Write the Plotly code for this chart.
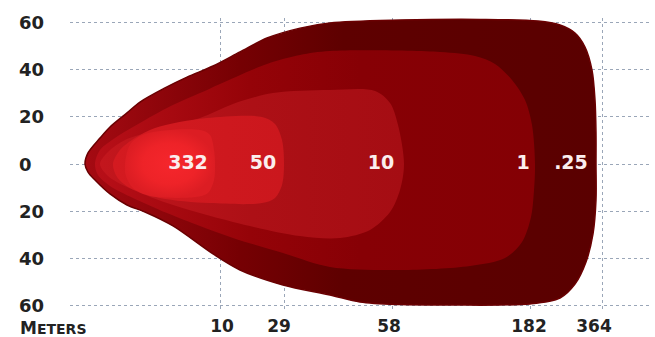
import plotly.graph_objects as go

# ---------------- data ----------------
# horizontal display position of the distance grid lines, tick labels (meters)
dist_grid_pos = [220, 284, 392, 530, 602]
dist_label_pos = [222, 279, 389, 529, 594]
dist_tick_labels = ["10", "29", "58", "182", "364"]

# lateral spread (meters) tick values and labels
lat_tick_vals = [60, 40, 20, 0, -20, -40, -60]
lat_tick_labels = ["60", "40", "20", "0", "20", "40", "60"]

# iso-lux contours: display position (x) and lateral meters (y)
c025_x = [85, 88, 100, 110, 127, 140, 165, 187, 213, 240, 267, 300, 330, 400, 480, 538, 560, 575, 585, 592, 595, 596, 596,
          596, 593, 586, 575, 560, 530, 450, 400, 360, 330, 283, 240, 213, 173, 145, 127, 110, 95, 88]
c025_y = [0, 4.7, 11.0, 15.7, 21.7, 26.3, 32.3, 36.9, 41.6, 47.6, 53.5, 57.7, 59.9, 61.1, 61.4, 60.7, 59.0, 55.6, 49.7, 39.9, 27.2, 13.2, 0,
          -15.3, -29.7, -41.6, -51.0, -56.9, -59.4, -59.9, -59.7, -58.6, -55.6, -51.4, -45.0, -38.2, -26.3, -20.4, -17.4, -12.7, -6.8, -3.4]

c1_x = [95, 100, 115, 133, 167, 200, 220, 267, 300, 330, 440, 475, 495, 512, 525, 532, 535,
        534, 531, 522, 505, 470, 400, 330, 283, 233, 200, 167, 133, 110, 98]
c1_y = [0, 5.9, 11.0, 15.7, 23.8, 30.1, 34.0, 42.5, 46.3, 48.0, 47.6, 45.9, 42.5, 35.7, 27.2, 16.6, 0,
        -11.0, -22.5, -33.1, -39.9, -43.3, -45.0, -43.7, -37.8, -31.4, -26.3, -20.8, -14.4, -9.3, -4.7]

c10_x = [100, 108, 125, 150, 200, 233, 273, 330, 375, 390, 398, 404,
         400, 390, 370, 340, 300, 233, 167, 127, 108]
c10_y = [0, 5.1, 10.2, 13.6, 19.5, 25.5, 30.1, 31.4, 31.0, 25.9, 16.6, 0,
         -11.0, -20.4, -28.0, -31.4, -30.6, -24.6, -16.6, -9.8, -5.1]

c50_x = [113, 120, 135, 155, 207, 262, 275, 282, 284, 282, 275, 262, 210, 160, 130, 117]
c50_y = [0, 5.9, 11.0, 15.3, 19.5, 20.0, 17.0, 10.2, 0, -8.9, -14.4, -16.6, -16.6, -14.4, -10.2, -5.5]

c332_x = [125, 130, 145, 200, 210, 214, 215, 214, 208, 195, 150, 133, 126]
c332_y = [0, 8.1, 12.7, 14.4, 12.3, 5.9, 0, -6.8, -12.3, -14.0, -13.6, -10.2, -5.1]

# lux value labels
lux_labels = ["332", "50", "10", "1", ".25"]
lux_label_x = [188, 263, 381, 523, 571]
lux_label_y = [0, 0, 0, 0, 0]

# ---------------- figure ----------------
BOLD = dict(family="DejaVu Sans", weight=700)

fig = go.Figure()

def contour(xs, ys, grad, gtype="horizontal", start=None, stop=None, line_col=None, lw=0):
    t = go.Scatter(
        x=xs + [xs[0]], y=ys + [ys[0]], mode="lines", fill="toself",
        line=dict(shape="spline", smoothing=0.9, width=lw, color=line_col or "rgba(0,0,0,0)"),
        fillgradient=dict(type=gtype, colorscale=grad, **({} if start is None else dict(start=start, stop=stop))),
        hoverinfo="skip", showlegend=False,
    )
    fig.add_trace(t)

contour(c025_x, c025_y,
        [[0, "#a50a12"], [0.3, "#760003"], [0.5, "#5e0000"], [1, "#5a0000"]],
        start=85, stop=600, line_col="#6a0002", lw=1.5)
contour(c1_x, c1_y,
        [[0, "#b80f18"], [0.35, "#950308"], [0.6, "#870005"], [1, "#840004"]],
        start=95, stop=537)
contour(c10_x, c10_y,
        [[0, "#c3161d"], [0.5, "#ad1016"], [1, "#a50d13"]],
        start=100, stop=404)
contour(c50_x, c50_y,
        [[0, "#d41a20"], [1, "#cb171d"]],
        start=113, stop=284)
contour(c332_x, c332_y,
        [[0, "#f5262c"], [0.6, "#ee2328"], [1, "#dc1d23"]],
        gtype="radial")

fig.add_trace(go.Scatter(
    x=lux_label_x, y=lux_label_y, mode="text", text=lux_labels, xaxis="x2",
    textfont=dict(color="#fbeeee", size=19, **BOLD),
    hoverinfo="skip", showlegend=False,
))

# lateral (y) labels, left aligned
for v, lab in zip(lat_tick_vals, lat_tick_labels):
    fig.add_annotation(x=-0.0914, xref="paper", y=v, yref="y", text=lab, showarrow=False,
                       xanchor="left", yanchor="middle",
                       font=dict(size=18, color="#222222", **BOLD))

fig.add_annotation(x=-0.0897, xref="paper", y=-0.062, yref="paper",
                   text="M<span style='font-size:14px'>ETERS</span>", showarrow=False,
                   xanchor="left", yanchor="middle",
                   font=dict(size=17, color="#222222", **BOLD))

grid = dict(showgrid=True, gridcolor="#9aa6b8", gridwidth=1, griddash="dot", zeroline=False,
            showline=False, ticks="", automargin=False)

fig.update_layout(
    width=655, height=337,
    margin=dict(l=70, r=5, t=18, b=27, autoexpand=False),
    paper_bgcolor="white", plot_bgcolor="white",
    xaxis=dict(range=[70, 650], tickvals=dist_grid_pos, showticklabels=False, **grid),
    xaxis2=dict(range=[70, 650], overlaying="x", anchor="y", side="bottom", automargin=False,
                tickvals=dist_label_pos, ticktext=dist_tick_labels, showgrid=False,
                zeroline=False, showline=False, ticks="",
                tickfont=dict(size=17, color="#222222", **BOLD), ticklabelstandoff=4),
    yaxis=dict(range=[-62, 62], tickvals=lat_tick_vals, showticklabels=False, **grid),
)

fig.write_html("out.html", post_script="document.body.style.margin='0';",
               config={"displayModeBar": False})
